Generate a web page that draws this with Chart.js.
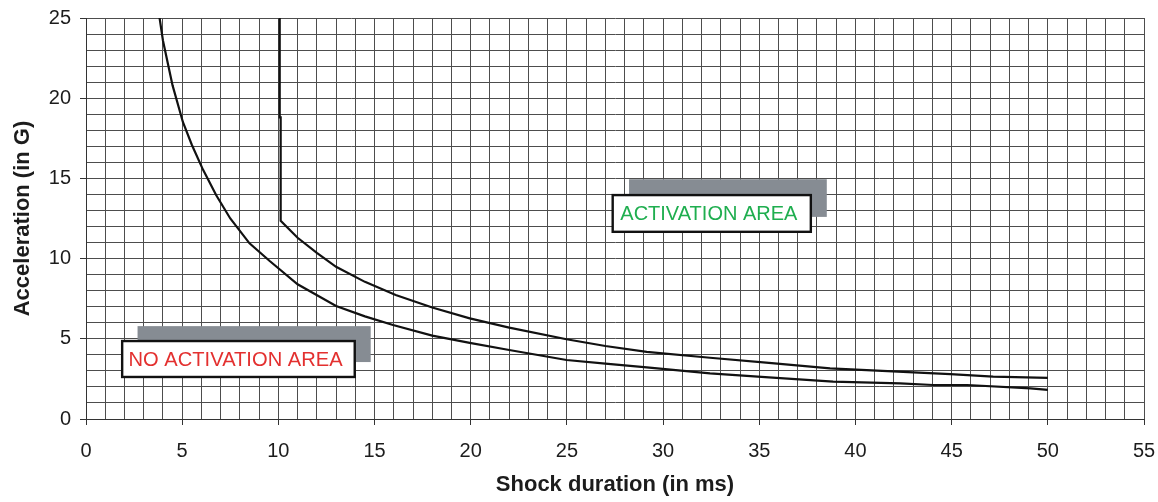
<!DOCTYPE html>
<html>
<head>
<meta charset="utf-8">
<script src="https://cdn.jsdelivr.net/npm/chart.js@4/dist/chart.umd.min.js"></script>
<style>
  html, body { margin: 0; padding: 0; background: #ffffff; }
  #wrap { width: 1158px; height: 502px; position: relative; }
</style>
</head>
<body>
<div id="wrap"><canvas id="c" width="1158" height="502"></canvas></div>
<script>
// ---- data ----
const xTickLabels = ['0','5','10','15','20','25','30','35','40','45','50','55'];
const yTickLabels = ['0','5','10','15','20','25'];

// boundary of the "no activation" area
const lowerX = [3.8, 4.0, 4.5, 5.04, 5.5, 6.08, 6.77, 7.5, 8.5, 9.55, 11, 13, 14.5, 15.96, 18, 19.95, 22, 24.98, 27, 29.15, 32.44, 35.5, 38.84, 42.32, 44.04, 45.8, 49.1, 50];
const lowerY = [25.2, 23.6, 20.8, 18.5, 17.1, 15.55, 13.95, 12.5, 10.95, 9.85, 8.4, 7.04, 6.4, 5.86, 5.2, 4.75, 4.3, 3.68, 3.45, 3.22, 2.85, 2.6, 2.33, 2.22, 2.12, 2.12, 1.91, 1.81];

// boundary of the "activation" area
const upperX = [10.07, 10.07, 10.12, 10.12, 11, 12, 13, 14.5, 16.1, 18, 19.95, 22, 24.98, 27, 29.15, 32.44, 35.5, 38.68, 43.02, 44.93, 47.16, 50];
const upperY = [25.3, 18.8, 18.8, 12.36, 11.3, 10.35, 9.49, 8.55, 7.73, 6.95, 6.27, 5.7, 4.97, 4.55, 4.19, 3.82, 3.5, 3.16, 2.91, 2.80, 2.64, 2.57];

// area labels
const noActivationLabel = 'NO ACTIVATION AREA';
const activationLabel = 'ACTIVATION AREA';

const FONT = "'Liberation Sans', Arial, Helvetica, sans-serif";
Chart.defaults.font.family = FONT;

function pts(xs, ys) { return xs.map((x, i) => ({ x: x, y: ys[i] })); }

// box geometry in data coordinates: [x0, yTop, x1, yBottom]; textW = text width in x units
const boxes = [
  { text: noActivationLabel, color: '#e3302f',
    box: [1.88, 4.86, 13.97, 2.62], shadow: [2.68, 5.79, 14.80, 3.55], textW: 11.13, shift: -0.15 },
  { text: activationLabel, color: '#1fae4f',
    box: [27.38, 13.96, 37.68, 11.67], shadow: [28.23, 14.95, 38.51, 12.60], textW: 9.21, shift: -0.15 }
];

const boxPlugin = {
  id: 'areaBoxes',
  afterDatasetsDraw(chart) {
    const ctx = chart.ctx;
    const xs = chart.scales.x, ys = chart.scales.y;
    boxes.forEach(b => {
      const sx0 = xs.getPixelForValue(b.shadow[0]), sy0 = ys.getPixelForValue(b.shadow[1]);
      const sx1 = xs.getPixelForValue(b.shadow[2]), sy1 = ys.getPixelForValue(b.shadow[3]);
      ctx.save();
      ctx.fillStyle = '#868c93';
      ctx.fillRect(sx0, sy0, sx1 - sx0, sy1 - sy0);
      const bx0 = xs.getPixelForValue(b.box[0]), by0 = ys.getPixelForValue(b.box[1]);
      const bx1 = xs.getPixelForValue(b.box[2]), by1 = ys.getPixelForValue(b.box[3]);
      ctx.fillStyle = '#ffffff';
      ctx.fillRect(bx0, by0, bx1 - bx0, by1 - by0);
      ctx.strokeStyle = '#111111';
      ctx.lineWidth = 2.4;
      ctx.strokeRect(bx0, by0, bx1 - bx0, by1 - by0);
      ctx.fillStyle = b.color;
      ctx.font = '21px ' + FONT;
      ctx.textAlign = 'center';
      ctx.textBaseline = 'middle';
      const w = ctx.measureText(b.text).width;
      const target = xs.getPixelForValue(b.textW) - xs.getPixelForValue(0);
      const cx = (bx0 + bx1) / 2 + (xs.getPixelForValue(b.shift) - xs.getPixelForValue(0));
      const cy = (by0 + by1) / 2 + 1;
      ctx.translate(cx, cy);
      ctx.scale(target / w, 1);
      ctx.fillText(b.text, 0, 0);
      ctx.restore();
    });
  }
};

const gridColor = '#4d4d4d';
const tickFont = { size: 20 };
const titleFont = { size: 22, weight: 'bold' };

new Chart(document.getElementById('c'), {
  type: 'line',
  data: {
    datasets: [
      { label: 'No activation limit', data: pts(lowerX, lowerY), borderColor: '#111111',
        borderWidth: 2.2, pointRadius: 0, tension: 0, fill: false },
      { label: 'Activation limit', data: pts(upperX, upperY), borderColor: '#111111',
        borderWidth: 2.2, pointRadius: 0, tension: 0, fill: false }
    ]
  },
  options: {
    responsive: false,
    animation: false,
    devicePixelRatio: 1,
    layout: { padding: { top: 18, right: 14, left: 0, bottom: 0 } },
    plugins: { legend: { display: false }, tooltip: { enabled: false } },
    scales: {
      x: {
        type: 'linear', min: 0, max: 55,
        afterFit(s) { s.height = 83; s.paddingLeft = 0; s.paddingRight = 0; },
        grid: {
          color: gridColor, lineWidth: 1, drawTicks: true, tickLength: 6,
          tickColor: c => (c.tick && c.tick.value % 5 === 0) ? '#333333' : 'rgba(0,0,0,0)'
        },
        border: { color: '#333333', width: 1 },
        ticks: {
          stepSize: 1, autoSkip: false, maxRotation: 0, minRotation: 0, padding: 14,
          color: '#1c1c1c', font: tickFont,
          callback: v => (v % 5 === 0) ? xTickLabels[v / 5] : ''
        },
        title: {
          display: true, text: 'Shock duration (in ms)', color: '#1c1c1c',
          font: titleFont, padding: { top: 0, bottom: 4 }
        }
      },
      y: {
        type: 'linear', min: 0, max: 25,
        afterFit(s) { s.width = 86; s.paddingTop = 0; s.paddingBottom = 0; },
        grid: {
          color: gridColor, lineWidth: 1, drawTicks: true, tickLength: 6,
          tickColor: c => (c.tick && c.tick.value % 5 === 0) ? '#333333' : 'rgba(0,0,0,0)'
        },
        border: { color: '#333333', width: 1 },
        ticks: {
          stepSize: 1, autoSkip: false, padding: 9,
          color: '#1c1c1c', font: tickFont,
          callback: v => (v % 5 === 0) ? yTickLabels[v / 5] : ''
        },
        title: {
          display: true, text: 'Acceleration (in G)', color: '#1c1c1c',
          font: titleFont, padding: { top: 10, bottom: 0 }
        }
      }
    }
  },
  plugins: [boxPlugin]
});
</script>
</body>
</html>
